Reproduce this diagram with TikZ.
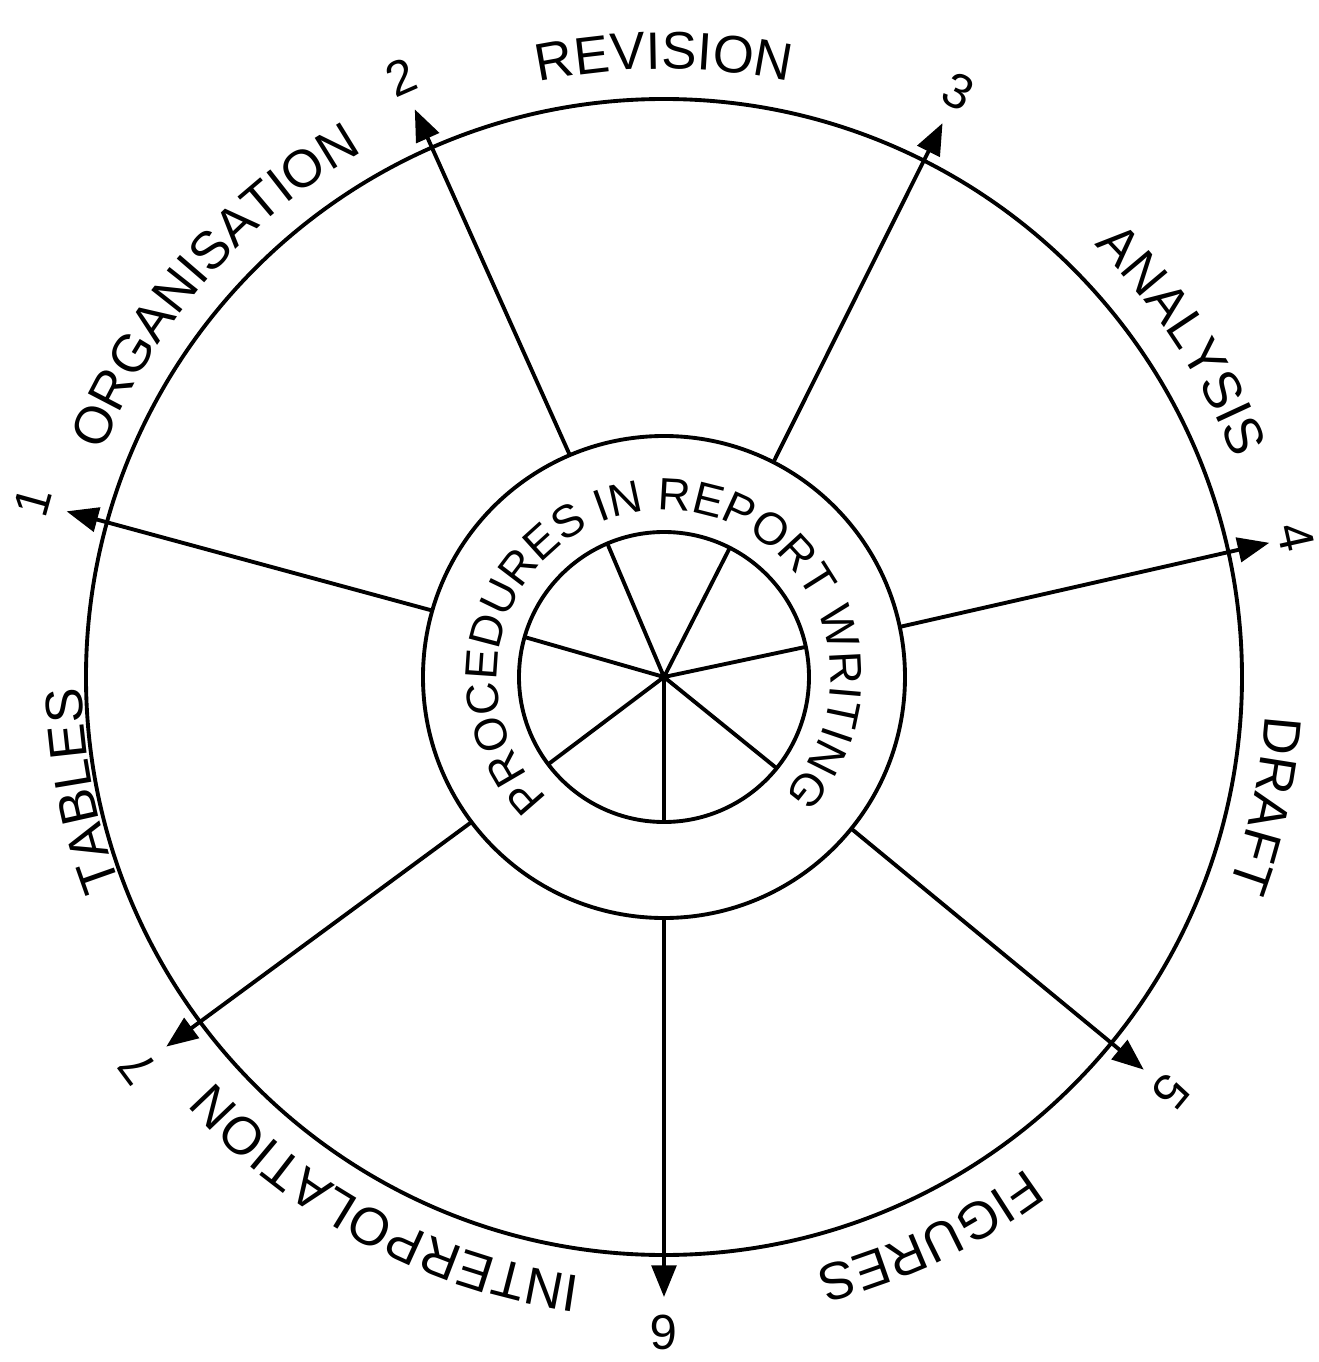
\documentclass[tikz,border=0pt]{standalone}
\usepackage{fontspec}
\setmainfont{Liberation Sans}
\usetikzlibrary{arrows.meta}
\usetikzlibrary{decorations.text}
\newcommand{\lblfont}{\fontsize{15}{18}\selectfont}
\newcommand{\midfont}{\fontsize{12.9}{15}\selectfont}

\begin{document}
\begin{tikzpicture}[
		c/.style = {circle, draw, line width=1.1pt, inner sep=0pt, outer sep=0pt},
		r/.style = {-{Triangle[length=9pt, width=7pt]}, line width=1.1pt},
		sp/.style = {line width=1.1pt},
		n/.style = {font=\fontsize{14}{14}\selectfont, inner sep=0pt},
		t/.style = {decorate, decoration={text along path, text align=center}}
		]
		\useasboundingbox (-6.64, -6.85) rectangle (6.54, 6.77);
		
		%Circles
		\node[c, minimum size=11.56cm]	(rim)	at	(0, 0)	{};
		\node[c, minimum size=4.82cm]	(mid)	at	(0, 0)	{};
		\node[c, minimum size=2.9cm]	(hub)	at	(0, 0)	{};
		\fill (hub.center) circle (0.05);
		
		%Spokes, arrows, numbers
		\foreach \a/\k/\d in {164.5/1/6.55, 113.7/2/6.55, 63.3/3/6.55, 12.5/4/6.47, -39.3/5/6.55, -90/6/6.55, -143.4/7/6.55} {
			\coordinate (t\k) at (\a:6.2);
			\draw[sp]	(hub.center)	--	(hub.\a);
			\draw[r]	(mid.\a)	--	(t\k);
			\node[n, rotate=\a-90]	(n\k)	at	(\a:\d)	{\k};
		}
		
		%Labels
		\path[t, decoration={text={|\lblfont|ORGANISATION}}]	(199:6.05)	arc[start angle=199, end angle=79, radius=6.05];
		\path[t, decoration={text={|\lblfont|REVISION}}]	(150:6.08)	arc[start angle=150, end angle=30, radius=6.08];
		\path[t, decoration={text={|\lblfont|ANALYSIS}}]	(93:6.1)	arc[start angle=93, end angle=-27, radius=6.1];
		\path[t, decoration={text={|\lblfont|DRAFT}}]	(48:6.02)	arc[start angle=48, end angle=-72, radius=6.02];
		\path[t, decoration={text={|\lblfont|FIGURES}}]	(-4.6:6.1)	arc[start angle=-4.6, end angle=-124.6, radius=6.1];
		\path[t, decoration={text={|\lblfont|INTERPOLATION}}]	(-58:6.05)	arc[start angle=-58, end angle=-178, radius=6.05];
		\path[t, decoration={text={|\lblfont|TABLES}}]	(251:5.82)	arc[start angle=251, end angle=131, radius=5.82];
		\path[t, decoration={text={|\midfont|PROCEDURES IN REPORT WRITING}}]	(226:1.67)	arc[start angle=226, end angle=-44, radius=1.67];
	\end{tikzpicture}
\end{document}
